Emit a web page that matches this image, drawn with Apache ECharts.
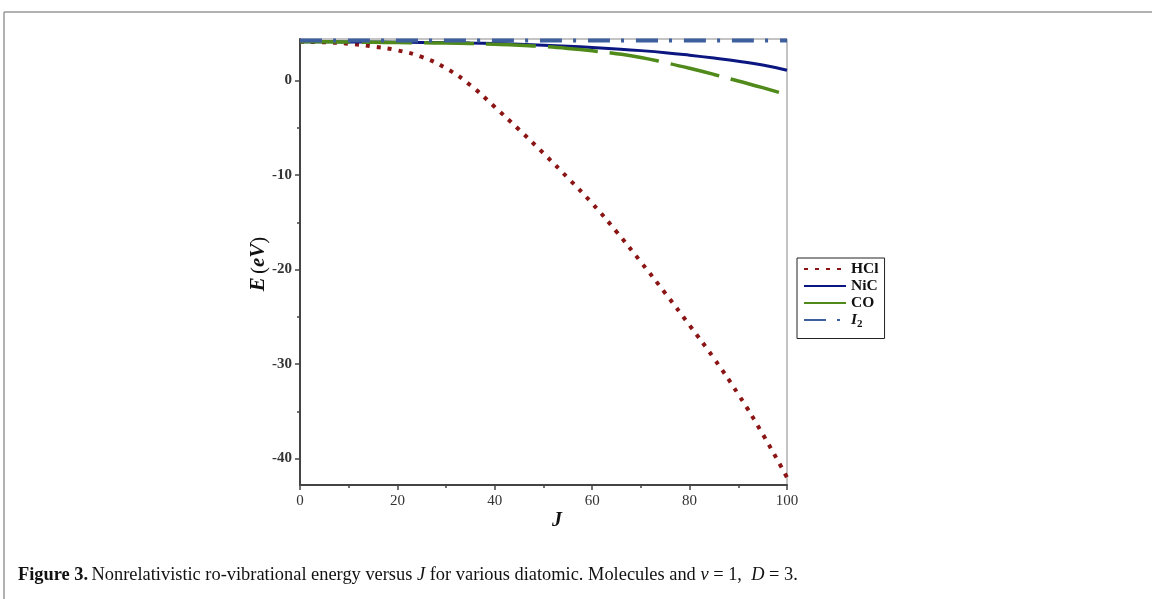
<!DOCTYPE html>
<html>
<head>
<meta charset="utf-8">
<script src="https://cdn.jsdelivr.net/npm/echarts@6/dist/echarts.min.js"></script>
<style>html,body{margin:0;padding:0;background:#fff;}#c{width:1152px;height:599px;}</style>
</head>
<body>
<div id="c"></div>
<script>
// ---- data ----
const J   = [0,5,10,15,20,25,30,35,40,45,50,55,60,65,70,75,80,85,90,95,100];
const HCl = [4.1,4.05,3.9,3.6,3.2,2.5,1.3,-0.5,-2.8,-5.2,-7.7,-10.3,-13.0,-16.0,-19.2,-22.5,-25.9,-29.4,-33.2,-37.4,-42.0];
const NiC = [4.1,4.1,4.09,4.08,4.06,4.04,4.02,3.98,3.93,3.85,3.75,3.63,3.5,3.35,3.17,2.95,2.68,2.38,2.05,1.65,1.1];
const CO  = [4.1,4.1,4.08,4.05,4.02,4.0,3.97,3.92,3.85,3.75,3.6,3.4,3.15,2.85,2.45,1.9,1.3,0.65,-0.05,-0.75,-1.5];
const I2  = [4.25,4.25,4.25,4.25,4.25,4.25,4.25,4.25,4.25,4.25,4.25,4.25,4.25,4.25,4.25,4.25,4.25,4.25,4.25,4.25,4.25];
const yMajorTicks = [-40,-30,-20,-10,0];
const yMinorTicks = [-35,-25,-15,-5];
const xTicksMax = 100;

const pairs = arr => J.map((j,i)=>[j,arr[i]]);
const serif = '"Liberation Serif","DejaVu Serif",serif';

const chart = echarts.init(document.getElementById('c'));
chart.setOption({
  backgroundColor:'#fff',
  animation:false,
  grid:{left:300,right:365,top:39,bottom:114,show:true,borderColor:'#888',borderWidth:1},
  xAxis:{
    type:'value',min:0,max:xTicksMax,interval:20,
    axisLine:{show:true,onZero:false,lineStyle:{color:'#444',width:2}},
    axisTick:{show:true,length:5,lineStyle:{color:'#444',width:1.5}},
    minorTick:{show:true,splitNumber:2,length:3,lineStyle:{color:'#444',width:1.5}},
    splitLine:{show:false},
    axisLabel:{color:'#333',fontFamily:serif,fontSize:15,margin:9}
  },
  yAxis:[{
    type:'value',min:-42.8,max:4.4,position:'left',
    axisLine:{show:true,onZero:false,lineStyle:{color:'#444',width:2}},
    axisTick:{show:true,length:5,customValues:yMajorTicks,lineStyle:{color:'#444',width:1.5}},
    splitLine:{show:false},
    axisLabel:{customValues:yMajorTicks,color:'#333',fontFamily:serif,fontSize:15,margin:8,fontWeight:'bold'}
  },{
    type:'value',min:-42.8,max:4.4,position:'left',
    axisLine:{show:false},
    axisTick:{show:true,length:3,customValues:yMinorTicks,lineStyle:{color:'#444',width:1.5}},
    splitLine:{show:false},
    axisLabel:{show:false}
  }],
  legend:{
    orient:'vertical',left:797,top:258,
    backgroundColor:'#fff',borderColor:'#222',borderWidth:1,
    padding:[3,6,9,6],itemWidth:42,itemHeight:12,itemGap:1,
    itemStyle:{opacity:0},
    textStyle:{fontFamily:serif,fontWeight:'bold',fontSize:15.5,color:'#111',
      rich:{i:{fontFamily:serif,fontStyle:'italic',fontWeight:'bold',fontSize:15.5,color:'#111'},
            s:{fontFamily:serif,fontWeight:'bold',fontSize:11,color:'#111',verticalAlign:'bottom',padding:[8,0,0,0]}}},
    formatter:n=> n==='I2' ? '{i|I}{s|2}' : n,
    data:['HCl','NiC','CO','I2']
  },
  series:[
    {name:'HCl',type:'line',data:pairs(HCl),smooth:true,symbol:'none',
     lineStyle:{color:'#8b1414',width:4,type:[4,7]},itemStyle:{color:'#8b1414'}},
    {name:'NiC',type:'line',data:pairs(NiC),smooth:true,symbol:'none',
     lineStyle:{color:'#0b1680',width:3,type:'solid'},itemStyle:{color:'#0b1680'}},
    {name:'CO',type:'line',data:pairs(CO),smooth:true,symbol:'none',
     lineStyle:{color:'#4f8a1a',width:3.5,type:[50,12]},itemStyle:{color:'#4f8a1a'}},
    {name:'I2',type:'line',data:pairs(I2),smooth:true,symbol:'none',
     lineStyle:{color:'#3e5f9e',width:4,type:[22,11,3,12]},itemStyle:{color:'#3e5f9e'}}
  ],
  graphic:[
    {type:'line',shape:{x1:4,y1:12,x2:1152,y2:12},style:{stroke:'#999',lineWidth:1.5}},
    {type:'line',shape:{x1:4,y1:12,x2:4,y2:599},style:{stroke:'#999',lineWidth:1.5}},
    {type:'text',x:557,y:521,
     style:{text:'J',align:'center',verticalAlign:'middle',
       fontFamily:serif,fontStyle:'italic',fontWeight:'bold',fontSize:20,fill:'#111'}},
    {type:'text',x:259,y:264,rotation:Math.PI/2,
     style:{text:'{e|E} {p|(}{e|eV}{p|)}',align:'center',verticalAlign:'middle',
       rich:{e:{fontFamily:serif,fontStyle:'italic',fontWeight:'bold',fontSize:21,fill:'#111'},
             p:{fontFamily:serif,fontSize:21,fill:'#111'}}}},
    {type:'text',x:18,y:575,
     style:{text:'{b|Figure 3.} {n|Nonrelativistic ro-vibrational energy versus }{it|J}{n| for various diatomic. Molecules and }{it|ν}{n| = 1,  }{it|D}{n| = 3.}',
       verticalAlign:'middle',
       rich:{b:{fontFamily:serif,fontWeight:'bold',fontSize:18.4,fill:'#111'},
             n:{fontFamily:serif,fontSize:18.4,fill:'#111'},
             it:{fontFamily:serif,fontStyle:'italic',fontSize:18.4,fill:'#111'}}}}
  ]
});
</script>
</body>
</html>
